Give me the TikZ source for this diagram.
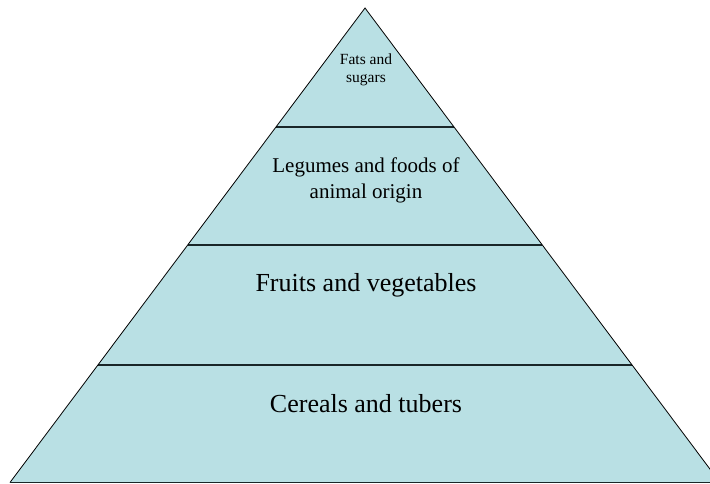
\documentclass[tikz,border=0pt]{standalone}
\usepackage{fontspec}
\setmainfont{Liberation Serif}
\usetikzlibrary{calc}
\definecolor{layerfill}{RGB}{185,224,228}
\definecolor{divline}{RGB}{25,38,40}

\begin{document}
\begin{tikzpicture}[x=1pt,y=-1pt,
    level/.style={align=center,text=black,inner sep=0pt},
    divider/.style={draw=divline,line width=1.8pt}]
\useasboundingbox (0,0) rectangle (710,484);
\clip (0,0) rectangle (710,484);
% pyramid corners
\coordinate (apex) at (365,8);
\coordinate (bl) at (10,482.5);
\coordinate (br) at (720,482.5);
\fill[layerfill] (apex) -- (bl) -- (br) -- cycle;
% layer dividers
\foreach \y/\n in {127/one,245/two,365/three} {
  \coordinate (\n l) at ($(apex)!{(\y-8)/474.5}!(bl)$);
  \coordinate (\n r) at ($(apex)!{(\y-8)/474.5}!(br)$);
  \draw[divider] (\n l) -- (\n r);
}
\draw[line width=0.8pt] (bl) -- (apex) -- (br);
\draw[divider] (bl) -- (br);
% labels
\node[level,font=\fontsize{15.5}{18}\selectfont] (fats) at (366,70) {Fats and\\sugars};
\node[level,font=\fontsize{21}{26}\selectfont] (legumes) at (366,180) {Legumes and foods of\\animal origin};
\node[level,font=\fontsize{26}{30}\selectfont] (fruits) at (366,285) {Fruits and vegetables};
\node[level,font=\fontsize{26}{30}\selectfont] (cereals) at (366,404) {Cereals and tubers};
\end{tikzpicture}
\end{document}
